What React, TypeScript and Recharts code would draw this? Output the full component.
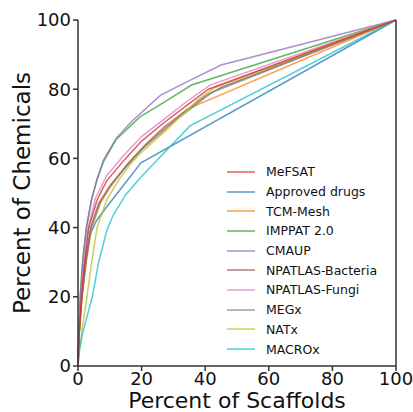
import React from 'react';
import { LineChart, Line, XAxis, YAxis, Legend } from 'recharts';

// cumulative scaffold curves, [percent of scaffolds, percent of chemicals]
const seriesNames = [
  'MeFSAT',
  'Approved drugs',
  'TCM-Mesh',
  'IMPPAT 2.0',
  'CMAUP',
  'NPATLAS-Bacteria',
  'NPATLAS-Fungi',
  'MEGx',
  'NATx',
  'MACROx',
];

const seriesColors = [
  '#d62728', '#1f77b4', '#ff7f0e', '#2ca02c', '#9467bd',
  '#8c564b', '#e377c2', '#7f7f7f', '#bcbd22', '#17becf',
];

const mefsat = [[0, 0], [0.4, 10], [1.1, 20], [2.1, 30], [3.4, 40], [6, 48], [9, 53.5], [14.5, 59.5], [20, 65], [27, 70.3], [34, 75.2], [41, 80], [100, 100]];
const approved = [[0, 0], [0.4, 10], [1.2, 20], [2.3, 30], [3.8, 38], [5.8, 42], [8.7, 45.6], [19.8, 58.7], [100, 100]];
const tcmMesh = [[0, 0], [0.4, 9], [1.3, 20], [2.6, 30], [4.3, 40], [7, 47], [10, 51.5], [15, 57.5], [20, 62.5], [27, 68], [34.2, 74.2], [100, 100]];
const imppat = [[0, 0], [0.3, 10], [0.7, 20], [1.4, 30], [2.6, 40], [4.2, 48], [6, 54], [8, 59], [12, 65.5], [19.5, 72], [27, 76.2], [35.7, 81.2], [100, 100]];
const cmaup = [[0, 0], [0.3, 10], [0.7, 20], [1.5, 30], [2.7, 40], [4.3, 48], [6, 54], [8, 59.5], [12, 65.8], [17, 70.8], [26, 78.3], [35.5, 82.7], [45, 87], [100, 100]];
const bacteria = [[0, 0], [0.4, 10], [1.2, 20], [2.4, 30], [4, 40], [6.5, 47], [10, 52], [15.5, 58.3], [21, 63.8], [27, 69], [33, 73.2], [40, 78], [45, 80.5], [100, 100]];
const fungi = [[0, 0], [0.3, 10], [1, 20], [2, 31], [3.2, 40], [5.5, 48.5], [9, 55], [14.5, 61], [20, 66.3], [27, 71.3], [34, 76.3], [41.5, 81.2], [100, 100]];
const megx = [[0, 0], [0.4, 10], [1.2, 20], [2.5, 30], [4.1, 40], [7, 47.5], [10, 52], [15, 57.5], [21, 63.5], [28, 69.2], [35, 74], [42, 79], [100, 100]];
const natx = [[0, 0], [0.3, 3], [1.2, 10], [2.8, 20], [4.3, 30], [6, 40], [9, 48], [13, 54], [16.4, 58.3], [20, 61.8], [27, 67.5], [37.5, 76.8], [43, 80.5], [100, 100]];
const macrox = [[0, 0], [0.3, 4], [1.6, 10], [4.5, 20], [6.5, 30], [9, 39], [11, 43.5], [15, 49.5], [19.8, 54.6], [35.2, 69.4], [100, 100]];

const seriesPoints = [mefsat, approved, tcmMesh, imppat, cmaup, bacteria, fungi, megx, natx, macrox];

const axisTicks = [0, 20, 40, 60, 80, 100];

const font = '"DejaVu Sans", sans-serif';
const axisColor = '#333';

// red is drawn on top, like the original
const drawOrder = [1, 2, 3, 4, 5, 6, 7, 8, 9, 0];

const renderLegend = () => (
  <div style={{ fontFamily: font, fontSize: 12.5, color: '#111' }}>
    {seriesNames.map((name, i) => (
      <div key={name} style={{ display: 'flex', alignItems: 'center', height: 19.7, whiteSpace: 'nowrap' }}>
        <svg width={28} height={4} style={{ marginRight: 11 }}>
          <line x1={0} y1={2} x2={28} y2={2} stroke={seriesColors[i]} strokeWidth={1.5} strokeOpacity={0.75} />
        </svg>
        <span>{name}</span>
      </div>
    ))}
  </div>
);

const App: React.FC = () => {
  return (
    <div style={{ position: 'absolute', left: 0, top: 0, background: '#fff' }}>
      <LineChart width={413} height={412} margin={{ top: 20, right: 0, bottom: 0, left: 0 }}>
        <XAxis
          dataKey="x"
          type="number"
          domain={[0, 100]}
          ticks={axisTicks}
          height={46}
          stroke={axisColor}
          strokeWidth={1.5}
          tickSize={5}
          tickMargin={1}
          tick={{ fontSize: 18, fill: '#111', fontFamily: font }}
          label={{ value: 'Percent of Scaffolds', position: 'insideBottom', offset: 4, fontSize: 22, fill: '#111', fontFamily: font }}
        />
        <XAxis
          xAxisId="top"
          orientation="top"
          dataKey="x"
          type="number"
          domain={[0, 100]}
          ticks={axisTicks}
          height={0}
          stroke={axisColor}
          strokeWidth={1.5}
          tickSize={5}
          tickFormatter={() => ''}
        />
        <YAxis
          type="number"
          domain={[0, 100]}
          ticks={axisTicks}
          width={78}
          stroke={axisColor}
          strokeWidth={1.5}
          tickSize={5}
          tickMargin={2}
          tick={{ fontSize: 18, fill: '#111', fontFamily: font }}
          label={{ value: 'Percent of Chemicals', angle: -90, position: 'insideLeft', offset: 22, fontSize: 23, fill: '#111', fontFamily: font, style: { textAnchor: 'middle' } }}
        />
        <YAxis
          yAxisId="right"
          orientation="right"
          type="number"
          domain={[0, 100]}
          ticks={axisTicks}
          width={17}
          stroke={axisColor}
          strokeWidth={1.5}
          tickSize={5}
          tickFormatter={() => ''}
        />
        {drawOrder.map((i) => (
          <Line
            key={seriesNames[i]}
            name={seriesNames[i]}
            data={seriesPoints[i].map(([x, y]) => ({ x, y }))}
            dataKey="y"
            type="linear"
            stroke={seriesColors[i]}
            strokeOpacity={0.75}
            strokeWidth={1.5}
            dot={false}
            isAnimationActive={false}
          />
        ))}
        <Legend
          layout="vertical"
          align="center"
          verticalAlign="middle"
          content={renderLegend}
          wrapperStyle={{ left: 227, top: 162, width: 'auto', height: 'auto' }}
        />
      </LineChart>
    </div>
  );
};

export default App;
